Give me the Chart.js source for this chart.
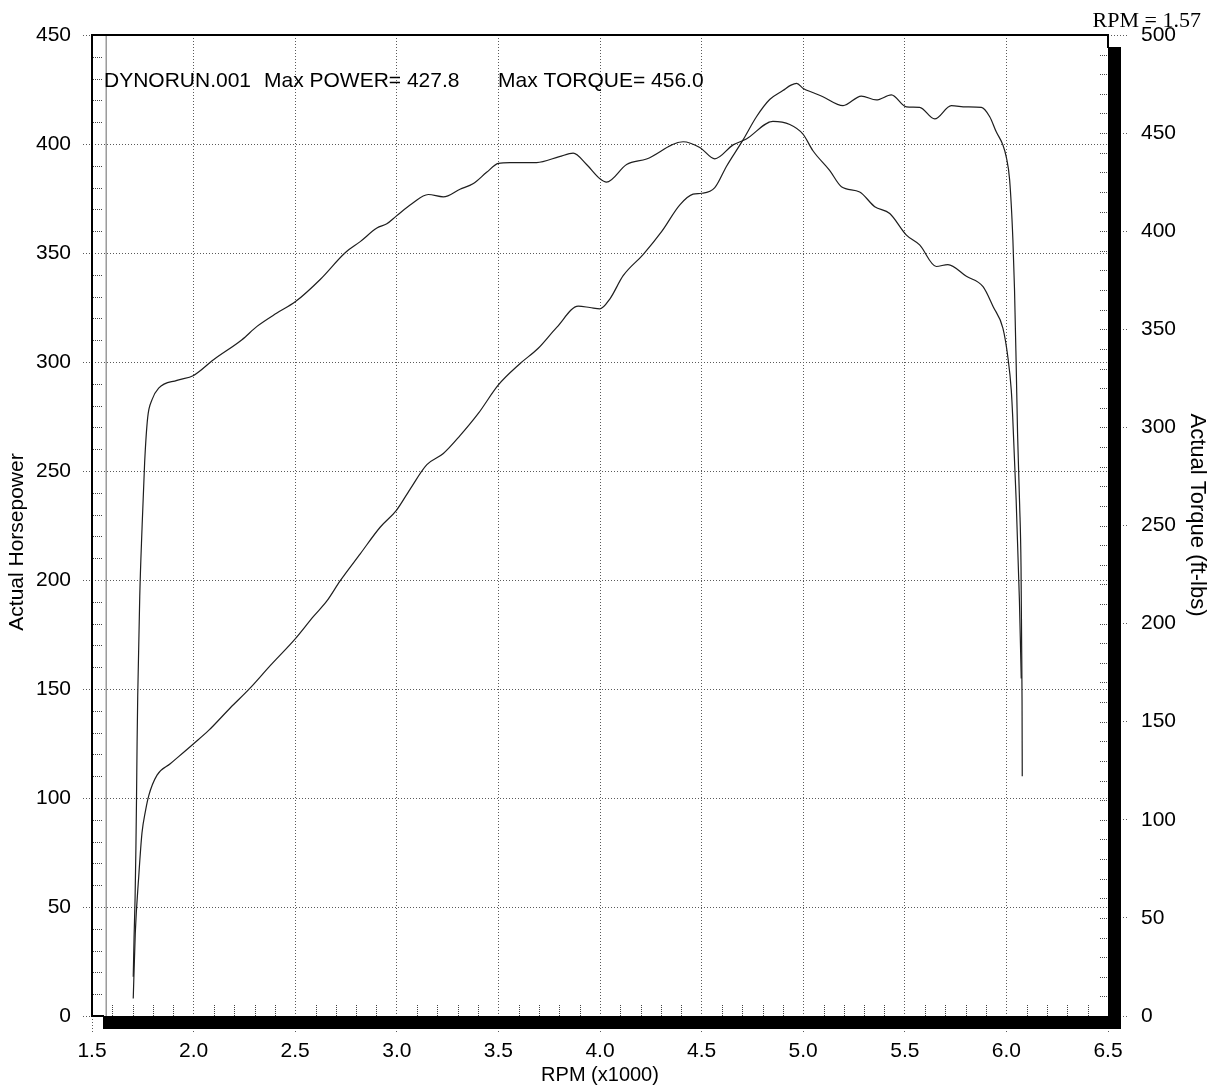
<!DOCTYPE html>
<html><head><meta charset="utf-8">
<script src="https://cdn.jsdelivr.net/npm/chart.js@4.4.1/dist/chart.umd.min.js"></script>
<style>html,body{margin:0;padding:0;background:#fff;}canvas{display:block;}</style>
</head><body>
<canvas id="c" width="1212" height="1089"></canvas>
<script>
// ---- data (RPM in x1000) ----
const rpmTicks = [1.5, 2.0, 2.5, 3.0, 3.5, 4.0, 4.5, 5.0, 5.5, 6.0, 6.5];
const hpTicks = [0, 50, 100, 150, 200, 250, 300, 350, 400, 450];
const torqueTicks = [0, 50, 100, 150, 200, 250, 300, 350, 400, 450, 500];

const powerRpm = [1.703, 1.713, 1.730, 1.746, 1.763, 1.779, 1.820, 1.885, 2.000, 2.074, 2.180, 2.279, 2.377, 2.500, 2.590, 2.656, 2.721, 2.820, 2.918, 2.997, 3.065, 3.148, 3.229, 3.311, 3.401, 3.500, 3.607, 3.696, 3.787, 3.893, 3.950, 4.000, 4.049, 4.114, 4.212, 4.303, 4.393, 4.458, 4.500, 4.565, 4.622, 4.704, 4.770, 4.835, 4.900, 4.940, 4.968, 5.000, 5.050, 5.097, 5.196, 5.286, 5.360, 5.434, 5.508, 5.573, 5.647, 5.729, 5.803, 5.877, 5.918, 5.950, 5.983, 5.999, 6.016, 6.032, 6.040, 6.048, 6.055, 6.065, 6.072, 6.075, 6.077, 6.078];
const powerHp = [8, 38, 64, 84, 94, 101, 110.5, 115.7, 124.9, 131, 141.3, 150.5, 160.7, 173, 183.3, 190.4, 199.6, 212, 224.2, 231.8, 241.6, 252.9, 258, 266.2, 276.4, 289.5, 299.3, 306.3, 315.9, 325.6, 325, 324.4, 329, 339.6, 349.3, 359.8, 372.1, 377, 377.4, 380, 389.7, 401.9, 412.5, 420.4, 424.5, 427, 427.8, 425.5, 423.5, 421.7, 417.6, 422, 420.2, 422.5, 417, 416.8, 411.5, 417.6, 417, 416.8, 412.5, 405.6, 399.5, 394.2, 383.5, 356, 333, 299.5, 267, 235, 206, 170, 145, 110];

const torqueRpm = [1.703, 1.707, 1.712, 1.716, 1.719, 1.722, 1.725, 1.735, 1.746, 1.759, 1.774, 1.795, 1.828, 1.918, 2.000, 2.098, 2.238, 2.312, 2.410, 2.500, 2.623, 2.746, 2.820, 2.902, 2.951, 2.997, 3.074, 3.155, 3.229, 3.311, 3.377, 3.442, 3.500, 3.557, 3.688, 3.800, 3.868, 3.934, 4.000, 4.032, 4.131, 4.229, 4.409, 4.491, 4.565, 4.655, 4.720, 4.851, 4.934, 4.999, 5.048, 5.130, 5.188, 5.278, 5.352, 5.426, 5.508, 5.573, 5.655, 5.712, 5.803, 5.885, 5.935, 5.983, 6.007, 6.024, 6.031, 6.048, 6.064, 6.073];
const torqueFtLbs = [20, 40, 60, 85, 110, 140, 163, 214, 248, 282, 305, 314, 320, 324, 326.5, 334.5, 344.7, 351.5, 358.3, 364, 375.4, 389, 394.7, 401.6, 403.8, 407.7, 414, 418.7, 417.5, 421.4, 424.3, 430, 434.6, 435, 435, 438, 439.8, 434, 426.7, 425, 434, 436.8, 445.6, 442.7, 436.9, 444, 447, 456, 454.4, 449.5, 441, 431, 422.7, 420, 412.5, 409, 398, 393, 382, 383, 377, 371.7, 361.5, 350.5, 336, 319, 305.5, 263, 212, 172];

const cursorRpm = 1.57;
const runName = 'DYNORUN.001';
const maxPower = 427.8;
const maxTorque = 456.0;
const leftTitle = 'Actual Horsepower';
const rightTitle = 'Actual Torque (ft-lbs)';
const bottomTitle = 'RPM (x1000)';

// ---- chart ----
const SANS = '"Liberation Sans", Arial, sans-serif';
const SERIF = '"Liberation Serif", "Times New Roman", serif';
Chart.defaults.font.family = SANS;
Chart.defaults.color = '#000';

const GRID = '#5a5a5a';
const DASH = [1, 2];

const decor = {
  id: 'decor',
  beforeDatasetsDraw(chart) {
    const {ctx, chartArea: a, scales: {x}} = chart;
    const px = x.getPixelForValue(cursorRpm);
    ctx.save();
    ctx.strokeStyle = '#9a9a9a';
    ctx.lineWidth = 1.5;
    ctx.beginPath(); ctx.moveTo(px, a.top); ctx.lineTo(px, a.bottom); ctx.stroke();
    ctx.restore();
  },
  afterDraw(chart) {
    const {ctx, chartArea: a, scales: {x, y, y2}} = chart;
    ctx.save();
    // minor ticks
    ctx.strokeStyle = '#444'; ctx.lineWidth = 1; ctx.setLineDash([1, 1]);
    ctx.beginPath();
    for (let i = 16; i < 65; i++) {
      if (i % 5 === 0) continue;
      const px = Math.round(x.getPixelForValue(i / 10)) + 0.5;
      ctx.moveTo(px, a.bottom - 11); ctx.lineTo(px, a.bottom);
    }
    for (let v = 10; v < 450; v += 10) {
      if (v % 50 === 0) continue;
      const py = Math.round(y.getPixelForValue(v)) + 0.5;
      ctx.moveTo(a.left + 1, py); ctx.lineTo(a.left + 10, py);
    }
    for (let v = 10; v < 500; v += 10) {
      const py = Math.round(y2.getPixelForValue(v)) + 0.5;
      ctx.moveTo(a.right - 8, py); ctx.lineTo(a.right, py);
    }
    ctx.stroke();
    ctx.setLineDash([]);
    // frame
    ctx.strokeStyle = '#000'; ctx.lineWidth = 2;
    ctx.beginPath();
    ctx.moveTo(a.left + 12, a.bottom); ctx.lineTo(a.left, a.bottom);
    ctx.lineTo(a.left, a.top); ctx.lineTo(a.right, a.top); ctx.lineTo(a.right, a.top + 13);
    ctx.stroke();
    ctx.fillStyle = '#000';
    ctx.fillRect(a.left + 11, a.bottom, a.right - a.left + 2, 13);
    ctx.fillRect(a.right, a.top + 12, 13, a.bottom - a.top + 1);
    // texts
    ctx.fillStyle = '#000';
    ctx.textBaseline = 'alphabetic';
    ctx.textAlign = 'left';
    ctx.font = '21px ' + SANS;
    ctx.fillText(runName, a.left + 12, 87);
    ctx.fillText('Max POWER= ' + maxPower.toFixed(1), a.left + 172, 87);
    ctx.fillText('Max TORQUE= ' + maxTorque.toFixed(1), a.left + 406, 87);
    ctx.font = '22px ' + SERIF;
    ctx.textAlign = 'right';
    ctx.fillText('RPM = ' + cursorRpm.toFixed(2), 1201, 27);
    // axis titles
    ctx.font = '21px ' + SANS;
    ctx.textAlign = 'center';
    ctx.textBaseline = 'middle';
    ctx.save();
    ctx.translate(17, 542); ctx.rotate(-Math.PI / 2);
    ctx.fillText(leftTitle, 0, 0);
    ctx.restore();
    ctx.save();
    ctx.font = '22px ' + SANS;
    ctx.translate(1197, 515); ctx.rotate(Math.PI / 2);
    ctx.fillText(rightTitle, 0, 0);
    ctx.restore();
    ctx.restore();
  }
};

const lineStyle = {borderColor: '#1e1e1e', borderWidth: 1.2, pointRadius: 0, fill: false, cubicInterpolationMode: 'monotone'};

new Chart(document.getElementById('c'), {
  type: 'line',
  data: {
    datasets: [
      Object.assign({label: leftTitle, yAxisID: 'y', data: powerRpm.map((r, i) => ({x: r, y: powerHp[i]}))}, lineStyle),
      Object.assign({label: rightTitle, yAxisID: 'y2', data: torqueRpm.map((r, i) => ({x: r, y: torqueFtLbs[i]}))}, lineStyle)
    ]
  },
  options: {
    responsive: false,
    animation: false,
    events: [],
    layout: {padding: {top: 35, left: 0, right: 0, bottom: 0}},
    plugins: {legend: {display: false}, tooltip: {enabled: false}, title: {display: false}},
    scales: {
      x: {
        type: 'linear', min: 1.5, max: 6.5,
        afterBuildTicks: s => { s.ticks = rpmTicks.map(v => ({value: v})); },
        afterFit: s => { s.height = 73; },
        ticks: {callback: v => Number(v).toFixed(1), font: {size: 21}, color: '#000', padding: 5, maxRotation: 0, autoSkip: false},
        grid: {color: GRID, lineWidth: 1, tickLength: 18, tickColor: GRID, tickBorderDash: DASH},
        border: {display: false, dash: DASH},
        title: {display: true, text: bottomTitle, font: {size: 20}, color: '#000', padding: {top: 0, bottom: 2}}
      },
      y: {
        type: 'linear', position: 'left', min: 0, max: 450,
        afterBuildTicks: s => { s.ticks = hpTicks.map(v => ({value: v})); },
        afterFit: s => { s.width = 92; },
        ticks: {font: {size: 21}, color: '#000', padding: 12},
        grid: {color: GRID, lineWidth: 1, tickLength: 9, tickColor: GRID, tickBorderDash: DASH},
        border: {display: false, dash: DASH}
      },
      y2: {
        type: 'linear', position: 'right', min: 0, max: 500,
        afterBuildTicks: s => { s.ticks = torqueTicks.map(v => ({value: v})); },
        afterFit: s => { s.width = 104; },
        ticks: {font: {size: 21}, color: '#000', padding: 13},
        grid: {drawOnChartArea: false, color: GRID, lineWidth: 1, tickLength: 20, tickColor: GRID, tickBorderDash: DASH},
        border: {display: false}
      }
    }
  },
  plugins: [decor]
});
</script>
</body></html>
